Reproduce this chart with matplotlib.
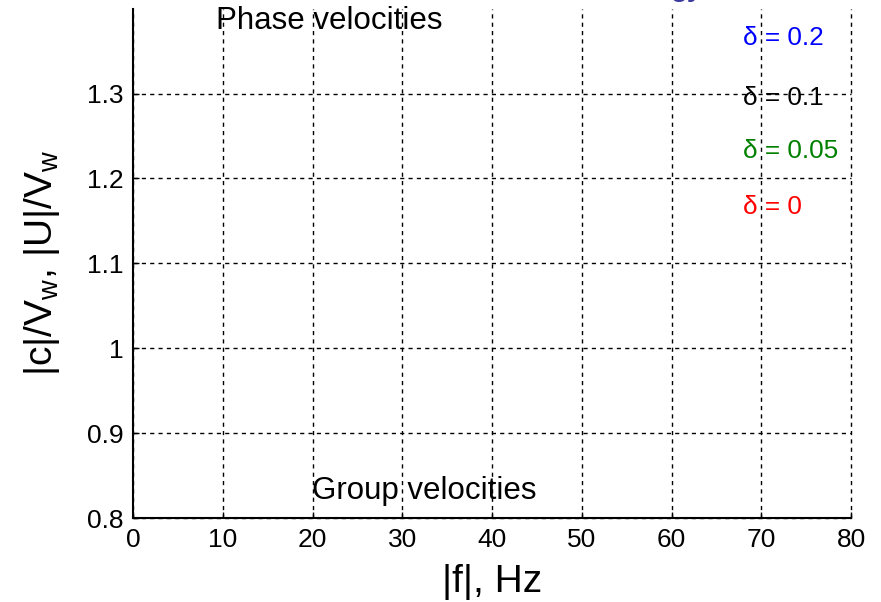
import numpy as np
import matplotlib.pyplot as plt
from matplotlib.ticker import FuncFormatter

plt.rcParams['font.family'] = ['Liberation Sans', 'DejaVu Sans']

# axis ranges and ticks
x_ticks = [0, 10, 20, 30, 40, 50, 60, 70, 80]
y_ticks = [0.8, 0.9, 1.0, 1.1, 1.2, 1.3]
x_lim = (0, 80)
y_lim = (0.8, 1.4)

# delta labels (right hand side)
delta_labels = ['\u03b4 = 0.2', '\u03b4 = 0.1', '\u03b4 = 0.05', '\u03b4 = 0']
delta_colors = ['#0000ff', '#000000', '#008000', '#ff0000']
delta_y = [1.366, 1.295, 1.232, 1.167]
delta_x = 68.0

fig = plt.figure(figsize=(8.81, 6.02), dpi=100)
ax = fig.add_axes([0.151, 0.1395, 0.815, 0.846])

ax.set_xlim(*x_lim)
ax.set_ylim(*y_lim)
ax.set_xticks(x_ticks)
ax.set_yticks(y_ticks)
ax.yaxis.set_major_formatter(FuncFormatter(lambda v, p: '%g' % round(v, 2)))
ax.tick_params(direction='in', length=4, width=1, labelsize=19, pad=7)

ax.grid(True, color='black', linestyle=(0, (3, 3)), linewidth=1)
ax.set_axisbelow(True)
for line in ax.get_xgridlines() + ax.get_ygridlines():
    line.set_clip_on(False)
for s in ['top', 'right']:
    ax.spines[s].set_visible(False)
for s in ['left', 'bottom']:
    ax.spines[s].set_linewidth(1.5)

ax.set_xlabel('|f|, Hz', fontsize=28, labelpad=9)
ax.set_ylabel('|c|/V$_{\\mathregular{w}}$, |U|/V$_{\\mathregular{w}}$', fontsize=28, labelpad=18)

ax.text(9.25, 1.385, 'Phase velocities', fontsize=22.5, va='center', ha='left')
ax.text(19.9, 0.832, 'Group velocities', fontsize=22.5, va='center', ha='left')

for lab, col, yy in zip(delta_labels, delta_colors, delta_y):
    ax.text(delta_x, yy, lab, color=col, fontsize=18.8, va='center', ha='left')

# cut-off title fragment at the very top
fig.text(0.762, 1.0 + 4 / 602, 'gy', color='#3a3aa0', fontsize=20,
         va='baseline', ha='left', fontweight='bold')

fig.savefig('out.png', dpi=100)
